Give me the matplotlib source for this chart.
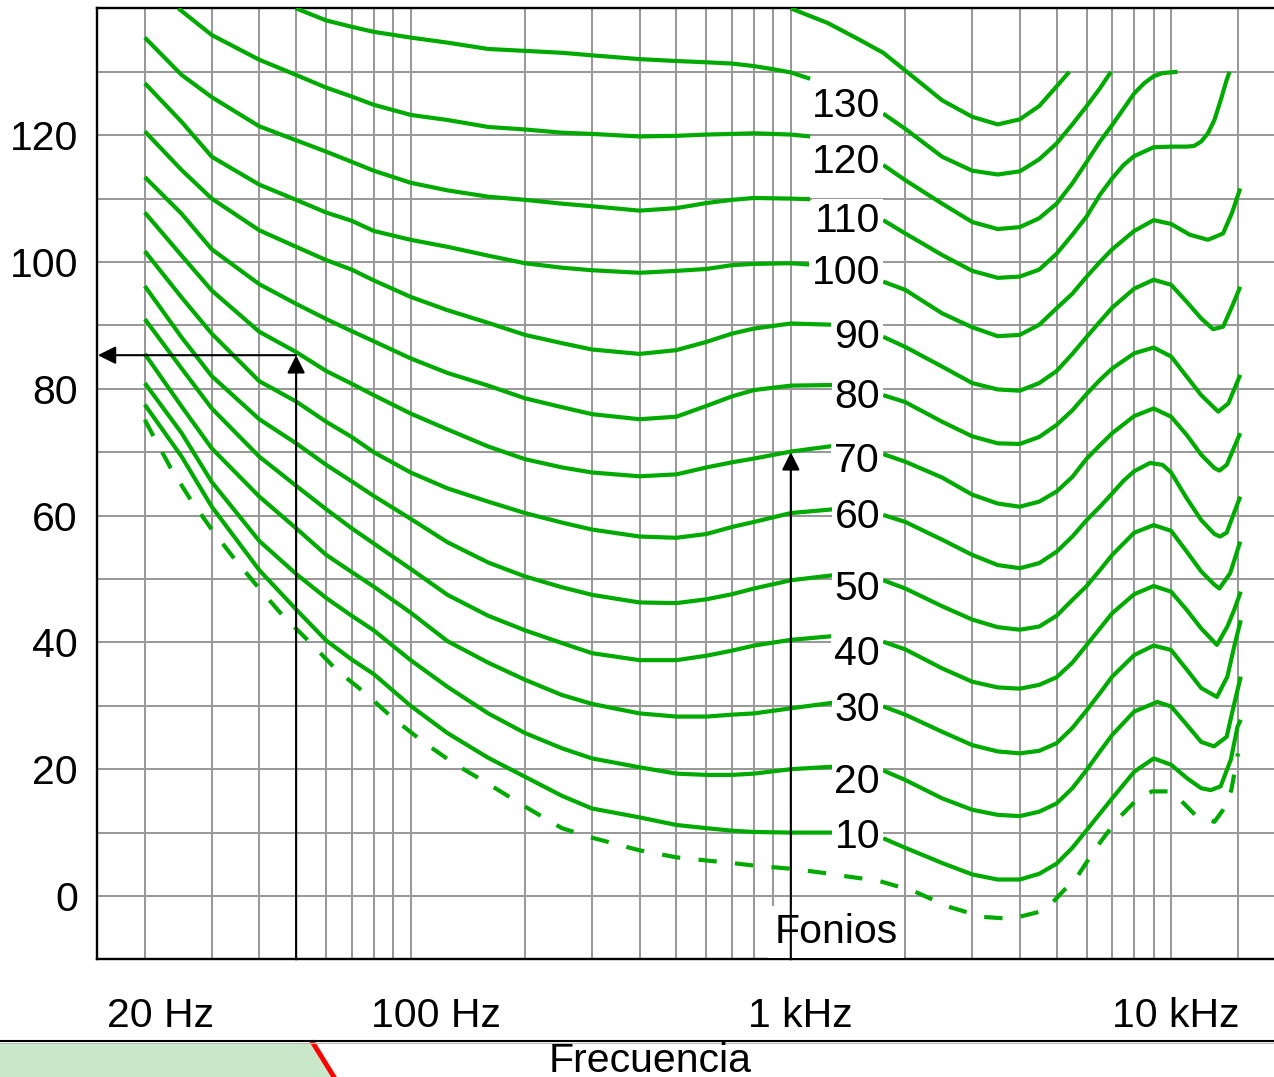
import numpy as np
import matplotlib
matplotlib.use('Agg')
import matplotlib.pyplot as plt
from matplotlib import transforms
from matplotlib.patches import Polygon
from matplotlib.lines import Line2D
from matplotlib.ticker import FixedLocator, NullLocator

plt.rcParams['font.family'] = ['Liberation Sans', 'DejaVu Sans']

# ---------------- data ----------------
# 140 phon: only visible from 1 kHz on (no label)
f_140 = [1000, 1250, 1500, 1750, 2000, 2500, 3000, 3500, 4000, 4500, 5000, 5400]
db_140 = [140, 137.7, 135.2, 133.0, 130.2, 125.5, 122.9, 121.7, 122.5, 124.6, 127.7, 130.0]

f_130_l = [50, 60, 70, 80, 100, 125, 160, 200, 250, 300, 400, 500, 600, 700, 800, 900, 1000, 1124]
db_130_l = [140, 138.1, 137.1, 136.3, 135.4, 134.6, 133.6, 133.3, 133.0, 132.6, 132.0, 131.7, 131.5, 131.3, 130.9, 130.4, 129.9, 128.9]
f_130_r = [1750, 2000, 2500, 3000, 3500, 4000, 4500, 5000, 5500, 6000, 6500, 6950]
db_130_r = [123.4, 121.0, 116.6, 114.4, 113.8, 114.3, 116.2, 118.7, 121.7, 124.6, 127.4, 130.0]

f_120_l = [24.5, 30, 40, 50, 60, 70, 80, 100, 125, 160, 200, 250, 300, 400, 500, 600, 700, 800, 1000, 1124]
db_120_l = [140, 135.8, 131.9, 129.5, 127.5, 126.1, 124.8, 123.2, 122.4, 121.3, 120.9, 120.4, 120.2, 119.8, 119.9, 120.1, 120.2, 120.3, 120.1, 119.8]
f_120_r = [1750, 2000, 2500, 3000, 3500, 4000, 4500, 5000, 5500, 6000, 6500, 7000, 8000, 8500, 9000, 9500, 10400]
db_120_r = [115.3, 112.9, 109.2, 106.3, 105.2, 105.5, 106.9, 109.2, 112.4, 115.8, 119.0, 121.6, 126.6, 128.2, 129.3, 129.8, 130.0]

f_110_l = [20, 25, 30, 40, 50, 60, 70, 80, 100, 125, 160, 200, 250, 300, 400, 500, 600, 700, 800, 1000, 1124]
db_110_l = [135.4, 129.5, 126.0, 121.4, 119.2, 117.4, 115.8, 114.4, 112.5, 111.3, 110.3, 109.8, 109.2, 108.8, 108.1, 108.5, 109.3, 109.8, 110.1, 110.0, 109.9]
f_110_r = [1750, 2000, 2500, 3000, 3500, 4000, 4500, 5000, 5500, 6000, 6500, 7000, 7500, 8000, 9000, 10000, 11000, 11500, 12000, 12500, 13000, 13500, 14000, 14250]
db_110_r = [106.6, 104.5, 101.1, 98.6, 97.5, 97.7, 98.8, 101.3, 104.3, 107.2, 110.6, 113.2, 115.3, 116.7, 118.1, 118.2, 118.2, 118.3, 119.0, 120.3, 122.4, 125.5, 128.7, 130.0]

f_100_l = [20, 25, 30, 40, 50, 60, 70, 80, 100, 125, 160, 200, 250, 300, 400, 500, 600, 700, 800, 1000, 1124]
db_100_l = [128.2, 122.1, 116.6, 112.2, 109.8, 107.8, 106.5, 104.9, 103.5, 102.4, 101.0, 99.8, 99.1, 98.7, 98.3, 98.6, 98.9, 99.5, 99.7, 99.8, 99.6]
f_100_r = [1750, 2000, 2500, 3000, 3500, 4000, 4500, 5000, 5500, 6000, 6500, 7000, 8000, 9000, 10000, 11200, 12500, 13700, 14450, 15200]
db_100_r = [96.9, 95.6, 91.9, 89.7, 88.3, 88.5, 90.1, 92.7, 95.0, 97.7, 100.0, 102.0, 104.9, 106.6, 106.0, 104.3, 103.5, 104.5, 107.7, 111.6]

f_90_l = [20, 25, 30, 40, 50, 60, 70, 80, 100, 125, 160, 200, 250, 300, 400, 500, 600, 700, 800, 1000, 1295]
db_90_l = [120.6, 114.5, 110.0, 105.0, 102.4, 100.3, 98.8, 97.1, 94.5, 92.4, 90.4, 88.5, 87.2, 86.2, 85.5, 86.1, 87.4, 88.7, 89.5, 90.3, 90.1]
f_90_r = [1750, 2000, 2500, 3000, 3500, 4000, 4500, 5000, 5500, 6000, 6500, 7000, 8000, 9000, 10000, 11000, 12000, 12900, 13700, 14450, 15200]
db_90_r = [88.2, 86.6, 83.5, 80.9, 79.9, 79.7, 80.9, 82.8, 85.5, 88.2, 90.6, 92.8, 95.8, 97.2, 96.4, 93.7, 91.1, 89.4, 89.8, 92.9, 96.1]

f_80_l = [20, 25, 30, 40, 50, 60, 70, 80, 100, 125, 160, 200, 250, 300, 400, 500, 600, 700, 800, 1000, 1295]
db_80_l = [113.4, 107.6, 102.0, 96.5, 93.4, 91.0, 89.1, 87.5, 84.8, 82.5, 80.5, 78.5, 77.1, 76.0, 75.2, 75.6, 77.3, 78.8, 79.8, 80.5, 80.6]
f_80_r = [1750, 2000, 2500, 3000, 3500, 4000, 4500, 5000, 5500, 6000, 6500, 7000, 8000, 9000, 10000, 11000, 12000, 13300, 14150, 15200]
db_80_r = [79.0, 77.9, 74.8, 72.5, 71.4, 71.3, 72.4, 74.3, 76.6, 79.2, 81.4, 83.2, 85.6, 86.5, 85.1, 81.9, 79.0, 76.4, 77.7, 82.2]

f_70_l = [20, 25, 30, 40, 50, 60, 70, 80, 100, 125, 160, 200, 250, 300, 400, 500, 600, 700, 800, 1000, 1295]
db_70_l = [107.8, 101.0, 95.5, 89.0, 85.8, 82.8, 80.8, 79.0, 76.1, 73.6, 70.9, 68.9, 67.6, 66.8, 66.2, 66.5, 67.6, 68.4, 69.0, 70.1, 71.0]
f_70_r = [1750, 2000, 2500, 3000, 3500, 4000, 4500, 5000, 5500, 6000, 6500, 7000, 8000, 9000, 10000, 11000, 12000, 13000, 13400, 14000, 15200]
db_70_r = [69.7, 68.5, 66.0, 63.3, 61.9, 61.4, 62.2, 63.8, 66.1, 69.0, 71.1, 73.0, 75.7, 76.9, 75.6, 72.7, 69.6, 67.5, 67.1, 68.0, 73.0]

f_60_l = [20, 25, 30, 40, 50, 60, 70, 80, 100, 125, 160, 200, 250, 300, 400, 500, 600, 700, 800, 1000, 1295]
db_60_l = [101.7, 94.4, 88.7, 81.2, 78.0, 74.8, 72.4, 70.0, 66.8, 64.3, 62.2, 60.4, 58.9, 57.8, 56.7, 56.5, 57.1, 58.2, 59.0, 60.4, 61.0]
f_60_r = [1750, 2000, 2500, 3000, 3500, 4000, 4500, 5000, 5500, 6000, 6500, 7000, 7500, 8000, 8800, 9500, 10000, 11000, 12000, 13000, 13450, 14000, 15200]
db_60_r = [60.1, 59.0, 56.2, 53.8, 52.2, 51.7, 52.5, 54.3, 56.7, 59.3, 61.4, 63.5, 65.5, 67.0, 68.3, 68.0, 66.8, 62.7, 59.3, 57.1, 56.7, 57.3, 63.0]

f_50_l = [20, 25, 30, 40, 50, 60, 70, 80, 100, 125, 160, 200, 250, 300, 400, 500, 600, 700, 800, 1000, 1295]
db_50_l = [96.2, 88.1, 82.0, 75.2, 71.4, 68.0, 65.4, 63.1, 59.5, 55.8, 52.6, 50.4, 48.7, 47.5, 46.3, 46.2, 46.8, 47.6, 48.5, 49.8, 50.6]
f_50_r = [1750, 2000, 2500, 3000, 3500, 4000, 4500, 5000, 5500, 6000, 6500, 7000, 8000, 9000, 10000, 11000, 12000, 13000, 13400, 14300, 15200]
db_50_r = [49.8, 48.5, 45.7, 43.6, 42.4, 42.0, 42.5, 44.2, 46.7, 48.9, 51.4, 53.8, 57.3, 58.5, 57.6, 54.3, 51.2, 49.1, 48.5, 50.9, 55.9]

f_40_l = [20, 25, 30, 40, 50, 60, 70, 80, 100, 125, 160, 200, 250, 300, 400, 500, 600, 700, 800, 1000, 1295]
db_40_l = [91.0, 83.2, 76.9, 69.3, 64.7, 61.0, 58.0, 55.6, 51.6, 47.5, 44.2, 41.9, 39.9, 38.3, 37.2, 37.2, 37.9, 38.7, 39.5, 40.4, 41.0]
f_40_r = [1750, 2000, 2500, 3000, 3500, 4000, 4500, 5000, 5500, 6000, 6500, 7000, 8000, 9000, 10000, 11000, 12000, 13200, 14060, 14650, 15250]
db_40_r = [40.1, 38.9, 35.9, 33.8, 32.9, 32.7, 33.3, 34.5, 36.8, 39.6, 42.2, 44.6, 47.6, 48.9, 48.0, 45.1, 42.2, 39.6, 42.5, 45.1, 48.0]

f_30_l = [20, 25, 30, 40, 50, 60, 70, 80, 100, 125, 160, 200, 250, 300, 400, 500, 600, 700, 800, 1000, 1295]
db_30_l = [85.5, 77.2, 70.6, 63.0, 58.0, 53.8, 51.1, 48.8, 44.7, 40.2, 36.8, 34.1, 31.7, 30.3, 28.8, 28.3, 28.3, 28.6, 28.8, 29.6, 30.5]
f_30_r = [1750, 2000, 2500, 3000, 3500, 4000, 4500, 5000, 5500, 6000, 6500, 7000, 8000, 9000, 10000, 11000, 12000, 13200, 14060, 14650, 15250]
db_30_r = [29.9, 28.6, 25.9, 23.8, 22.8, 22.5, 22.9, 24.1, 26.5, 29.3, 32.0, 34.6, 38.0, 39.5, 38.8, 35.7, 32.8, 31.4, 34.6, 39.3, 43.5]

f_20_l = [20, 25, 30, 40, 50, 60, 70, 80, 100, 125, 160, 200, 250, 300, 400, 500, 600, 700, 800, 1000, 1295]
db_20_l = [80.9, 73.0, 65.3, 56.0, 50.8, 47.0, 44.2, 41.9, 37.2, 33.0, 28.8, 25.7, 23.3, 21.7, 20.3, 19.3, 19.1, 19.1, 19.3, 20.0, 20.4]
f_20_r = [1750, 2000, 2500, 3000, 3500, 4000, 4500, 5000, 5500, 6000, 6500, 7000, 8000, 9200, 10000, 11000, 12000, 12970, 14000, 14600, 15250]
db_20_r = [19.8, 18.3, 15.4, 13.6, 12.8, 12.6, 13.3, 14.6, 17.0, 19.9, 22.8, 25.4, 29.1, 30.6, 29.9, 27.0, 24.3, 23.6, 25.1, 29.9, 34.6]

f_10_l = [20, 25, 30, 40, 50, 60, 70, 80, 100, 125, 160, 200, 250, 300, 400, 500, 600, 700, 800, 1000, 1295]
db_10_l = [77.5, 69.3, 61.4, 51.4, 45.2, 40.3, 37.3, 35.0, 30.0, 25.7, 21.8, 18.8, 15.8, 13.8, 12.4, 11.2, 10.7, 10.3, 10.1, 10.0, 10.0]
f_10_r = [1750, 2000, 2500, 3000, 3500, 4000, 4500, 5000, 5500, 6000, 6500, 7000, 8000, 9000, 10000, 11000, 12000, 12720, 13500, 14360, 14950, 15250]
db_10_r = [9.1, 7.6, 5.2, 3.4, 2.6, 2.6, 3.5, 5.1, 7.6, 10.4, 13.0, 15.4, 19.6, 21.7, 20.7, 18.6, 17.0, 16.7, 17.3, 21.5, 26.7, 27.8]

# hearing threshold (dashed)
f_thr = [20, 21, 23.4, 26.4, 30, 34.6, 40, 46, 54.6, 64, 76, 90, 108, 130, 160, 200, 250, 300, 400, 500,
         600, 700, 800, 1000, 1200, 1400, 1700, 2100, 2600, 3200, 3800, 4500, 4900, 5700, 6300, 7200,
         8100, 8900, 10000, 10800, 11700, 13000, 13900, 14400, 15000]
db_thr = [75.1, 72.7, 67.5, 62.5, 57.8, 53.0, 48.5, 44.3, 39.9, 35.6, 32.0, 28.0, 24.3, 20.9, 17.7, 14.1, 10.7, 9.2, 7.2, 6.1,
          5.6, 5.2, 4.8, 4.3, 3.7, 3.1, 2.4, 0.8, -1.7, -3.3, -3.6, -2.5, -0.9, 3.3, 7.3, 12.0,
          15.1, 16.5, 16.5, 14.6, 12.5, 11.7, 14.1, 16.7, 22.5]

phon_levels = [130, 120, 110, 100, 90, 80, 70, 60, 50, 40, 30, 20, 10]
label_db = [122.9, 114.1, 104.7, 96.5, 86.4, 76.9, 66.9, 58.0, 46.7, 36.4, 27.6, 16.3, 7.5]  # label baselines
label_freq = 1717

grid_freqs = [20, 30, 40, 50, 60, 70, 80, 90, 100, 200, 300, 400, 500, 600, 700, 800, 900, 1000,
              2000, 3000, 4000, 5000, 6000, 7000, 8000, 9000, 10000, 15000]
ytick_vals = [0, 20, 40, 60, 80, 100, 120]
xtick_freqs = [20, 100, 1000, 10000]
xtick_labels = ['20 Hz', '100 Hz', '1 kHz', '10 kHz']

arrow_low_f, arrow_low_db = 50, 85.3
arrow_ref_f, arrow_ref_db = 1000, 70

curves = [
    (f_130_l, db_130_l, f_130_r, db_130_r),
    (f_120_l, db_120_l, f_120_r, db_120_r),
    (f_110_l, db_110_l, f_110_r, db_110_r),
    (f_100_l, db_100_l, f_100_r, db_100_r),
    (f_90_l, db_90_l, f_90_r, db_90_r),
    (f_80_l, db_80_l, f_80_r, db_80_r),
    (f_70_l, db_70_l, f_70_r, db_70_r),
    (f_60_l, db_60_l, f_60_r, db_60_r),
    (f_50_l, db_50_l, f_50_r, db_50_r),
    (f_40_l, db_40_l, f_40_r, db_40_r),
    (f_30_l, db_30_l, f_30_r, db_30_r),
    (f_20_l, db_20_l, f_20_r, db_20_r),
    (f_10_l, db_10_l, f_10_r, db_10_r),
]

# ---------------- figure ----------------
W, H, DPI = 1274, 1077, 100
GREEN = '#00aa00'
GRID = '#999999'
FS = 29.5
LW = 3.0

fig = plt.figure(figsize=(W / DPI, H / DPI), dpi=DPI)
ax_left, ax_top, ax_bottom = 97.3, 8.4, 959.4
ax = fig.add_axes([ax_left / W, 1 - ax_bottom / H, 1 - ax_left / W, (ax_bottom - ax_top) / H])
ax.set_xscale('log')
ax.set_xlim(15, 18650)
ax.set_ylim(-10, 140)

ax.xaxis.set_major_locator(FixedLocator(grid_freqs))
ax.xaxis.set_minor_locator(NullLocator())
ax.xaxis.set_major_formatter(plt.NullFormatter())
ax.set_yticks(np.arange(-10, 141, 10))
ax.set_yticklabels([str(v) if v in ytick_vals else '' for v in np.arange(-10, 141, 10)])
ax.yaxis.set_minor_locator(NullLocator())
ax.tick_params(axis='both', length=0)
ax.tick_params(axis='y', pad=13.9, labelsize=FS)
ax.set_axisbelow(True)
ax.grid(True, which='major', color=GRID, lw=1.45)

for s in ['left', 'top', 'bottom']:
    ax.spines[s].set_linewidth(1.7)
    ax.spines[s].set_color('black')
ax.spines['right'].set_visible(False)

# curves
ax.plot(f_140, db_140, color=GREEN, lw=LW, solid_capstyle='butt', solid_joinstyle='round', zorder=3)
for fl, dl, fr, dr in curves:
    ax.plot(fl, dl, color=GREEN, lw=LW, solid_capstyle='butt', solid_joinstyle='round', zorder=3)
    ax.plot(fr, dr, color=GREEN, lw=LW, solid_capstyle='butt', solid_joinstyle='round', zorder=3)
ax.plot(f_thr, db_thr, color=GREEN, lw=LW, ls=(0, (4.4, 4.4)), dash_capstyle='butt', zorder=3)

# phon labels
for p, yb in zip(phon_levels, label_db):
    ax.text(label_freq, yb, str(p), ha='right', va='baseline', fontsize=FS, zorder=6,
            bbox=dict(boxstyle='square,pad=0.07', fc='white', ec='none'))

ax.text(906, -7.41, 'Fonios', ha='left', va='baseline', fontsize=FS, zorder=6,
        bbox=dict(boxstyle='square,pad=0.16', fc='white', ec='none'))

# arrows
ap = dict(arrowstyle='-|>', color='black', lw=1.5, mutation_scale=27, shrinkA=0, shrinkB=0)
ax.annotate('', xy=(arrow_low_f, arrow_low_db), xytext=(arrow_low_f, -10), arrowprops=ap, zorder=7)
ax.annotate('', xy=(15.05, arrow_low_db), xytext=(arrow_low_f, arrow_low_db), arrowprops=ap, zorder=7)
ax.annotate('', xy=(arrow_ref_f, arrow_ref_db), xytext=(arrow_ref_f, -10), arrowprops=ap, zorder=7)

# x tick labels (as text, slightly shifted like the original)
xoff_px = [16, 25, 9, 5]
base = transforms.blended_transform_factory(ax.transData, ax.transAxes)
y_lab = (ax_bottom - 1026.7) / (ax_bottom - ax_top)
for fq, lab, dx in zip(xtick_freqs, xtick_labels, xoff_px):
    tr = base + transforms.ScaledTranslation(dx / DPI, 0, fig.dpi_scale_trans)
    ax.text(fq, y_lab, lab, transform=tr, ha='center', va='baseline', fontsize=FS, clip_on=False)

# bottom strip decorations
def fy(px):
    return 1 - px / H

fig.add_artist(Polygon([(0, fy(1043)), (312 / W, fy(1043)), (334 / W, fy(1077)), (0, fy(1077))],
                       closed=True, transform=fig.transFigure, fc='#c9e8c9', ec='none', zorder=1))
fig.add_artist(Line2D([313 / W, 334 / W], [fy(1043), fy(1077)], transform=fig.transFigure,
                      color='#ff0000', lw=3.5, zorder=2))
fig.add_artist(Line2D([0, 1], [fy(1042.8), fy(1042.8)], transform=fig.transFigure,
                      color='#bbbbbb', lw=0.8, zorder=2))
fig.add_artist(Line2D([0, 1], [fy(1040.7), fy(1040.7)], transform=fig.transFigure,
                      color='black', lw=1.5, zorder=3))
fig.text(650 / W, fy(1072.5), 'Frecuencia', ha='center', va='baseline', fontsize=FS)

fig.savefig('out.png', dpi=DPI)
